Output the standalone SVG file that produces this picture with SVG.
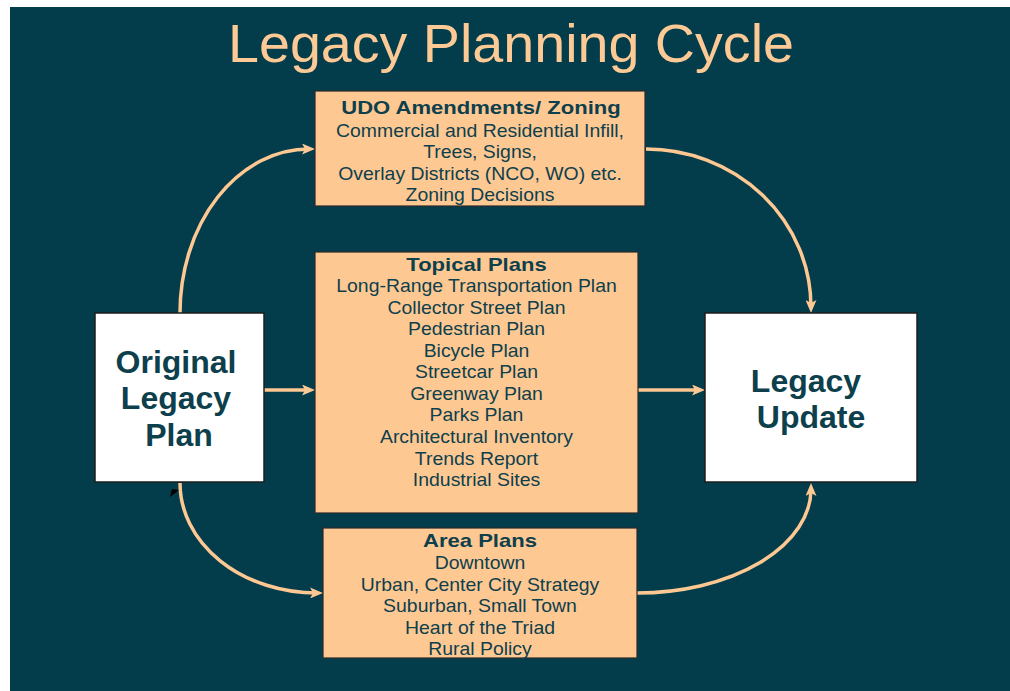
<svg xmlns="http://www.w3.org/2000/svg" width="1010" height="691" viewBox="0 0 1010 691">
<style>
.bg{fill:#033c4a}
.peach{fill:#fec893;stroke:#2a2a2a;stroke-width:1.2}
.white{fill:#ffffff;stroke:#1e1e1e;stroke-width:1.5}
.t{font-family:"Liberation Sans",Arial,sans-serif;fill:#0d3f4c;text-anchor:middle}
.r{font-size:17.5px}
.b{font-size:19px;font-weight:bold}
.big{font-size:32px;font-weight:bold}
.title{font-family:"Liberation Sans",Arial,sans-serif;font-size:53px;fill:#fdca96;text-anchor:middle}
.conn{fill:none;stroke:#fec893;stroke-width:3.5}
</style>
<defs>
<marker id="ah" markerUnits="userSpaceOnUse" markerWidth="13" markerHeight="11" viewBox="0 0 13 11" refX="7" refY="5.5" orient="auto">
<path d="M0,0 L13,5.5 L0,11 L3,5.5 Z" fill="#fec893"/>
</marker>
</defs>
<rect width="1010" height="691" fill="#ffffff"/>
<rect class="bg" x="10" y="7" width="1000" height="684"/>
<g id="title" transform="translate(511,0) scale(1.05,1)">
<text class="title" x="0" y="62">Legacy Planning Cycle</text>
</g>
<g id="connectors">
<path class="conn" d="M180,313 A129,164 0 0 1 309,149" marker-end="url(#ah)"/>
<path class="conn" d="M646,149 A165,158 0 0 1 811,307" marker-end="url(#ah)"/>
<path class="conn" d="M180,483 A137,110 0 0 0 317,593" marker-end="url(#ah)"/>
<path class="conn" d="M637,593 A174,104 0 0 0 811,489" marker-end="url(#ah)"/>
<path class="conn" d="M264,390 H309" marker-end="url(#ah)"/>
<path class="conn" d="M638,390 H699" marker-end="url(#ah)"/>
<polygon points="170,497 172,489 179,490" fill="#000000"/>
</g>
<g id="original">
<rect class="white" x="95" y="313" width="169" height="169"/>
<text class="t big" x="176" y="373">Original</text>
<text class="t big" x="176" y="409">Legacy</text>
<text class="t big" x="179" y="446">Plan</text>
</g>
<g id="update">
<rect class="white" x="705" y="313" width="212" height="169"/>
<text class="t big" x="806" y="392">Legacy</text>
<text class="t big" x="811" y="428">Update</text>
</g>
<g id="udo">
<rect class="peach" x="315" y="91" width="330" height="115"/>
<g transform="translate(481,0) scale(1.16,1)"><text class="t b" x="0" y="114">UDO Amendments/ Zoning</text></g>
<g transform="translate(480,0) scale(1.11,1)">
<text class="t r" x="0" y="137">Commercial and Residential Infill,</text>
<text class="t r" x="0" y="158.5">Trees, Signs,</text>
<text class="t r" x="0" y="180">Overlay Districts (NCO, WO) etc.</text>
<text class="t r" x="0" y="201">Zoning Decisions</text>
</g>
</g>
<g id="topical">
<rect class="peach" x="315" y="252" width="323" height="261"/>
<g transform="translate(476.5,0) scale(1.16,1)"><text class="t b" x="0" y="271">Topical Plans</text></g>
<g transform="translate(476.5,0) scale(1.11,1)">
<text class="t r" x="0" y="292.5">Long-Range Transportation Plan</text>
<text class="t r" x="0" y="314">Collector Street Plan</text>
<text class="t r" x="0" y="335.5">Pedestrian Plan</text>
<text class="t r" x="0" y="357">Bicycle Plan</text>
<text class="t r" x="0" y="378.5">Streetcar Plan</text>
<text class="t r" x="0" y="400">Greenway Plan</text>
<text class="t r" x="0" y="421.5">Parks Plan</text>
<text class="t r" x="0" y="443.5">Architectural Inventory</text>
<text class="t r" x="0" y="465">Trends Report</text>
<text class="t r" x="0" y="486.5">Industrial Sites</text>
</g>
</g>
<g id="area">
<rect class="peach" x="323" y="528" width="314" height="130"/>
<g transform="translate(480,0) scale(1.16,1)"><text class="t b" x="0" y="547.5">Area Plans</text></g>
<g transform="translate(480,0) scale(1.11,1)">
<text class="t r" x="0" y="569.5">Downtown</text>
<text class="t r" x="0" y="591">Urban, Center City Strategy</text>
<text class="t r" x="0" y="612.5">Suburban, Small Town</text>
<text class="t r" x="0" y="634">Heart of the Triad</text>
<text class="t r" x="0" y="655">Rural Policy</text>
</g>
</g>
</svg>
